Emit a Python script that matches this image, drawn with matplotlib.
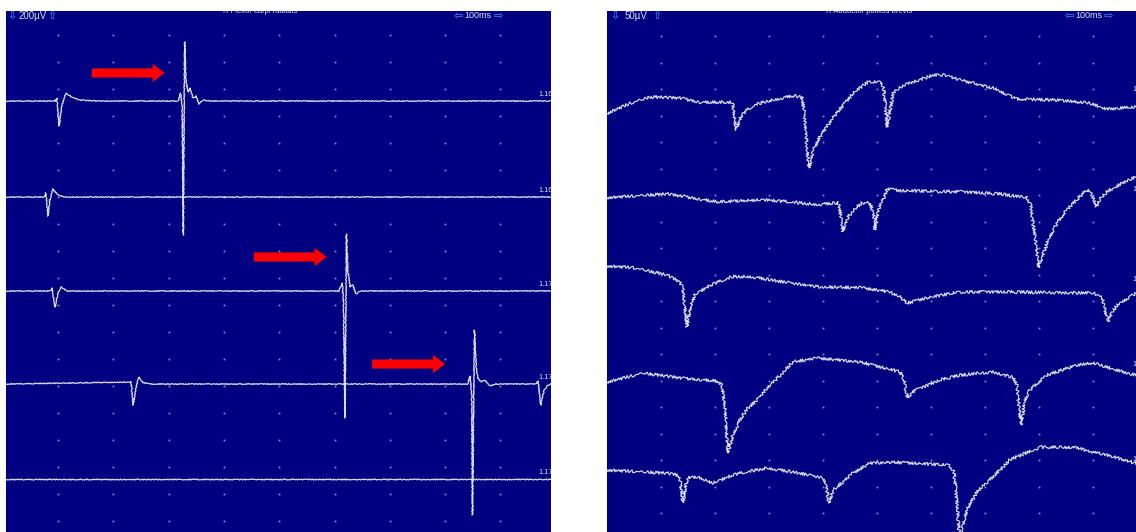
import matplotlib
matplotlib.use('Agg')
import matplotlib.pyplot as plt
from matplotlib.patches import FancyArrow
import numpy as np

# ---------------- data ----------------
# Left screen: R Flexor carpi radialis, 200 uV/div, 100 ms/div
left_title = 'R Flexor carpi radialis'
left_gain = '200µV'
left_sweep = '100ms'
left_uv_per_div = 200
left_offsets_uv = [-689, -1400, -2096, -2785, -3489]
left_labels = ['1.16', '1.16', '1.17', '1.17', '1.17']
left_t = [
    [6, 95, 98, 102, 107, 114, 125, 140, 176, 317, 322, 324.5, 326.6, 329, 331.5, 335, 339, 344, 350, 355, 362, 375, 991],
    [6, 75, 78, 82, 85, 91, 100, 113, 991],
    [6, 86, 89, 94.6, 100, 105, 116, 608, 614, 616, 619, 621.6, 624, 628, 633, 639, 646, 991],
    [6, 232, 236, 241, 246, 254, 266, 275, 841, 845, 848, 849.5, 853, 856, 859, 865, 872, 881, 890, 964, 968, 973, 979, 984, 991],
    [6, 991],
]
left_uv = [
    [0, 0, 22, -185, -30, 59, 30, 7, 0, 0, 59, -60, -993, 437, 150, 67, 96, 22, 37, -22, 7, 0, 0],
    [0, 0, 30, -141, -22, 59, 15, 0, 0],
    [0, 0, 22, -119, -15, 30, 0, 0, 59, -67, -941, 422, 156, 30, 44, -22, 0, 0],
    [0, 15, -156, -30, 52, 10, 0, 0, 0, 59, -81, -970, 400, 140, 44, 15, 30, -15, 0, 0, 22, -156, -44, -15, 0],
    [0, 0],
]
left_arrow_t = [161, 454, 668]
left_arrow_uv = [-481, -1844, -2637]
left_arrow_len_ms = 132

# Right screen: R Abductor pollicis brevis, 50 uV/div, 100 ms/div
right_title = 'R Abductor pollicis brevis'
right_gain = '50µV'
right_sweep = '100ms'
right_uv_per_div = 50
right_offsets_uv = [-170, -358, -528, -689, -868]
right_labels = ['1.16', '1.16', '1.17', '1.17', '1.17']
right_t = [
    [0, 43, 80, 135, 172, 228, 233, 239, 248, 259, 274, 296, 344, 361, 365, 374, 383, 394, 419, 456, 483, 509, 513, 519, 530, 548, 604, 626, 654, 715, 759, 839, 895, 926, 980],
    [0, 111, 204, 296, 389, 428, 431, 437, 446, 456, 472, 487, 493, 496, 502, 506, 513, 519, 543, 654, 728, 778, 785, 800, 809, 820, 835, 852, 870, 889, 898, 906, 913, 926, 963, 980],
    [0, 48, 111, 135, 141, 148, 156, 163, 191, 233, 265, 326, 389, 469, 524, 543, 556, 593, 654, 746, 900, 917, 928, 937, 950, 980],
    [0, 67, 141, 204, 213, 219, 224, 233, 246, 261, 278, 296, 315, 344, 389, 469, 543, 550, 557, 565, 580, 617, 654, 715, 752, 759, 767, 774, 783, 815, 870, 900, 963, 980],
    [0, 111, 130, 135, 141, 146, 150, 167, 196, 233, 296, 357, 400, 406, 411, 419, 426, 456, 487, 530, 635, 643, 648, 654, 659, 667, 685, 704, 728, 746, 802, 863, 926, 980],
]
right_uv = [
    [-25, -6, 6, 4, -4, -4, -8, -57, -30, -19, -9, -2, 8, 6, -19, -128, -94, -70, -32, 13, 34, 34, 19, -51, 13, 28, 47, 47, 38, 23, 2, 0, -6, -17, -13],
    [4, 11, -4, 0, -9, -6, -15, -60, -34, -19, -6, -6, -23, -57, -23, -8, 4, 21, 17, 15, 11, 4, -9, -128, -98, -70, -42, -19, 0, 19, 11, -13, 0, 15, 36, 43],
    [45, 42, 28, 15, 0, -70, -28, -9, 9, 25, 25, 15, 6, 4, -4, -13, -25, -15, -4, -4, -6, -15, -60, -38, -25, -6],
    [-13, 4, -6, -11, -19, -66, -147, -113, -85, -62, -47, -25, -6, 25, 32, 25, 6, -9, -43, -32, -25, -9, 0, 6, -4, -19, -94, -47, -28, 0, 19, 23, 4, 0],
    [0, -6, -9, -19, -62, -28, -15, -13, -25, -9, 4, -6, -15, -28, -62, -38, -32, -6, 13, 15, 9, -4, -57, -142, -104, -75, -42, -23, 0, 19, 43, 43, 28, 13],
]

# ---------------- style / layout ----------------
W, H = 1136, 532
NAVY = '#000080'
TRACE = '#dcdcec'
DOT = '#8888c8'
ICON = '#3a9cff'
TXT = '#dcdcea'
FONT = ['Liberation Sans', 'DejaVu Sans']

fig = plt.figure(figsize=(W / 100, H / 100), dpi=100, facecolor='white')


def make_axes(px0, px1, py0, py1):
    ax = fig.add_axes([px0 / W, 1 - py1 / H, (px1 - px0) / W, (py1 - py0) / H])
    ax.set_facecolor(NAVY)
    ax.set_xticks([])
    ax.set_yticks([])
    for s in ax.spines.values():
        s.set_visible(False)
    return ax


def draw_screen(ax, xlim, ylim, uv_per_div, offsets, ts, uvs, labels, label_t,
                label_dy, sketch, lw):
    ax.set_xlim(*xlim)
    ax.set_ylim(*ylim)
    # grid dots
    gx, gy = np.meshgrid(np.arange(100, 1000, 100),
                         -uv_per_div * np.arange(1, 20))
    ax.plot(gx.ravel(), gy.ravel(), ls='none', marker='s', ms=1.3,
            mew=0, color=DOT, zorder=1)
    for off, t, uv, lab in zip(offsets, ts, uvs, labels):
        ln, = ax.plot(t, np.asarray(uv) + off, color=TRACE, lw=lw, zorder=3,
                      solid_joinstyle='round')
        ln.set_sketch_params(*sketch)
        ax.text(label_t, off + label_dy, lab, color=TXT, fontsize=5.3,
                family=FONT, ha='left', va='bottom', clip_on=True, zorder=4)


# Left screen
axL = make_axes(6, 551, 11, H)
draw_screen(axL, (6.0, 991.4), (-3881, -22.2), left_uv_per_div,
            left_offsets_uv, left_t, left_uv, left_labels, 968, 25,
            (0.5, 2.5, 2), 0.9)
for t0, y0 in zip(left_arrow_t, left_arrow_uv):
    axL.add_patch(FancyArrow(t0, y0, left_arrow_len_ms, 0, width=67,
                             head_width=135, head_length=22,
                             length_includes_head=True, color='#ff0000',
                             lw=0, zorder=5))

# Right screen
axR = make_axes(607, W, 11, H)
draw_screen(axR, (0, 980), (-985, -1.9), right_uv_per_div,
            right_offsets_uv, right_t, right_uv, right_labels, 974, 13,
            (1.5, 2.0, 2), 0.85)


def ftext(px, py, s, **kw):
    fig.text(px / W, 1 - py / H, s, **kw)


def icon(px, py, s):
    ftext(px, py, s, color=ICON, fontsize=8, family='DejaVu Sans',
          ha='center', va='center')


hy = 16
# left header
icon(11.5, hy, '⇩')
ftext(19, hy, left_gain, color=TXT, fontsize=7, family=FONT, ha='left', va='center')
icon(51.5, hy, '⇧')
icon(458, hy, '⇦')
ftext(464, hy, left_sweep, color=TXT, fontsize=6.5, family=FONT, ha='left', va='center')
icon(498, hy, '⇨')
axL.text((260 - 6) / 545, 1 - 0.5 / 521, left_title, transform=axL.transAxes,
         color=TXT, fontsize=5.5, family=FONT, ha='center', va='center',
         clip_on=True)

# right header
icon(614.5, hy, '⇩')
ftext(625, hy, right_gain, color=TXT, fontsize=7, family=FONT, ha='left', va='center')
icon(656.5, hy, '⇧')
icon(1069, hy, '⇦')
ftext(1075, hy, right_sweep, color=TXT, fontsize=6.5, family=FONT, ha='left', va='center')
icon(1108.5, hy, '⇨')
axR.text((869 - 607) / 529, 1 - 0.5 / 521, right_title, transform=axR.transAxes,
         color=TXT, fontsize=5.5, family=FONT, ha='center', va='center',
         clip_on=True)

fig.savefig('out.png', dpi=100, facecolor='white')
